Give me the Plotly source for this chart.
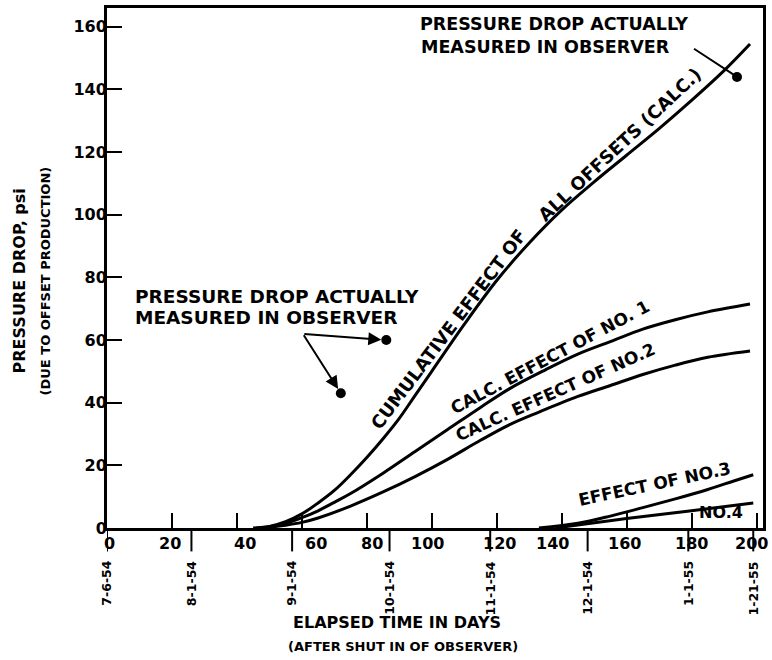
import plotly.graph_objects as go
import pandas as pd

# Elapsed time (days) and calculated pressure drop (psi) for each curve
cum_days = [45, 50, 55, 60, 65, 70, 75, 80, 85, 90, 95, 100, 110, 120, 130, 140, 150, 160, 170, 180, 190, 198]
cum_psi = [0, 0.5, 2, 4.5, 8, 12, 17, 22.5, 28.5, 35, 42.5, 50, 65, 79, 91, 101.5, 110.5, 119, 127.5, 136.5, 146, 154.5]

no1_days = [46, 50, 55, 60, 65, 70, 75, 85, 95, 105, 115, 124, 135, 145, 155, 165, 175, 185, 198]
no1_psi = [0, 0.4, 1.5, 3.3, 5.5, 8.2, 11, 17.5, 24.5, 31.5, 38.5, 44.5, 50.5, 55.5, 59.5, 63.5, 66.5, 69, 71.5]

no2_days = [48, 55, 60, 65, 75, 85, 95, 105, 115, 124, 133, 145, 155, 165, 175, 185, 198]
no2_psi = [0, 0.9, 1.8, 3.2, 7, 11.5, 16.5, 22, 28, 33, 37, 42, 45.5, 49, 52, 54.5, 56.5]

no3_days = [133, 145, 155, 165, 175, 185, 193, 199]
no3_psi = [0, 1.5, 3.8, 6.5, 9.3, 12.3, 15, 17]

no4_days = [138, 160, 180, 199]
no4_psi = [0, 3, 5.5, 8]

# Pressure drop measured in the observer well
obs_days = [72, 86, 194]
obs_psi = [43, 60, 144]

# Time-axis ticks and the calendar dates marked under the axis
x_ticks = list(range(0, 201, 20))
y_ticks = list(range(0, 161, 20))
date_labels = ["7-6-54", "8-1-54", "9-1-54", "10-1-54", "11-1-54", "12-1-54", "1-1-55", "1-21-55"]


def to_date(s):
    m, d, y = (int(v) for v in s.split("-"))
    return pd.Timestamp(1900 + y, m, d)


start = to_date(date_labels[0])
date_days = [(to_date(s) - start).days for s in date_labels]

FONT = "DejaVu Sans"
INK = "black"
W, H = 772, 660
ML, MR, MT, MB = 107, 9, 5, 132
PW, PH = W - ML - MR, H - MT - MB

# sideways nudges (px) that keep the day numbers clear of the date ticks
x_label_nudge = [2, -2, 8, 14, 5, -4, 3, -9, -2, 0, -5]

fig = go.Figure()
for xs, ys in [(cum_days, cum_psi), (no1_days, no1_psi), (no2_days, no2_psi),
               (no3_days, no3_psi), (no4_days, no4_psi)]:
    fig.add_trace(go.Scatter(x=xs, y=ys, mode="lines", line=dict(color=INK, width=3, shape="spline"),
                             hoverinfo="skip", showlegend=False))

fig.add_trace(go.Scatter(x=obs_days, y=obs_psi, mode="markers",
                         marker=dict(color=INK, size=10), showlegend=False))

ann = []


def bold(size):
    return dict(family=FONT, size=size, color=INK, weight="bold")


def label(text, x, y, angle=0, size=17, **kw):
    ann.append(dict(text=text, x=x, y=y, xref="x", yref="y", showarrow=False, textangle=angle,
                    font=bold(size), **kw))


def note(text, px, py, size, angle=0, **kw):
    ann.append(dict(text=text, x=(px - ML) / PW, y=(H - MB - py) / PH, xref="paper", yref="paper",
                    yanchor="middle", showarrow=False, textangle=angle, font=bold(size), **kw))


# Curve labels
label("CUMULATIVE EFFECT OF", 105, 63.5, -53, 18)
label("ALL OFFSETS (CALC.)", 157.8, 122.5, -43, 18)
label("CALC. EFFECT OF NO. 1", 136.5, 54.5, -28)
label("CALC. EFFECT OF NO.2", 138, 43.5, -24)
label("EFFECT OF NO.3", 168.5, 14, -12)
label("NO.4", 189, 4.8, 0, 16)

# Observed-pressure notes
note("PRESSURE DROP ACTUALLY", 133, 295, 18.5, xanchor="left")
note("MEASURED IN OBSERVER", 133, 316, 18.5, xanchor="left")
note("PRESSURE DROP ACTUALLY", 418, 21, 17.5, xanchor="left")
note("MEASURED IN OBSERVER", 419, 44.5, 17.5, xanchor="left")

for i in (0, 1):
    ann.append(dict(x=obs_days[i], y=obs_psi[i], ax=60.3, ay=62, xref="x", yref="y", axref="x", ayref="y",
                    text="", showarrow=True, arrowhead=2, arrowsize=1.3, arrowwidth=2,
                    arrowcolor=INK, standoff=5))
ann.append(dict(x=obs_days[2], y=obs_psi[2], ax=180.3, ay=153.3, xref="x", yref="y", axref="x", ayref="y",
                text="", showarrow=True, arrowhead=0, arrowwidth=2, arrowcolor=INK))

# Day numbers along the time axis
for v, dx in zip(x_ticks, x_label_nudge):
    ann.append(dict(text=str(v), x=v, y=-16 / PH, xref="x", yref="paper", xshift=dx,
                    xanchor="center", yanchor="middle", showarrow=False, font=bold(16)))

# Calendar dates under the time axis
for d, t in zip(date_days, date_labels):
    ann.append(dict(text=t, x=d, y=-0.06, xref="x", yref="paper", showarrow=False, textangle=-90,
                    xanchor="center", yanchor="top", font=bold(12.5)))

# Axis titles
note("ELAPSED TIME IN DAYS", 397, 623, 16, xanchor="center")
note("(AFTER SHUT IN OF OBSERVER)", 403, 647, 13, xanchor="center")
note("PRESSURE DROP, psi", 19, 280, 16, -90, xanchor="center")
note("(DUE TO OFFSET PRODUCTION)", 45, 280, 13, -90, xanchor="center")

shapes = [dict(type="line", xref="x", yref="paper", x0=d, x1=d, y0=0, y1=-0.045,
               line=dict(color=INK, width=2)) for d in date_days]

axis_common = dict(showgrid=False, zeroline=False, showline=True, linecolor=INK, linewidth=3,
                   mirror=True, ticks="inside", ticklen=15, tickwidth=2, tickcolor=INK,
                   tickfont=bold(16))

fig.update_layout(
    width=W, height=H, margin=dict(l=ML, r=MR, t=MT, b=MB),
    paper_bgcolor="white", plot_bgcolor="white",
    xaxis=dict(range=[0, 202], tickvals=x_ticks, showticklabels=False, **axis_common),
    yaxis=dict(range=[0, 166], tickvals=y_ticks, ticklabelstandoff=-6, **axis_common),
    annotations=ann, shapes=shapes, showlegend=False,
)

fig.write_html("out.html")
